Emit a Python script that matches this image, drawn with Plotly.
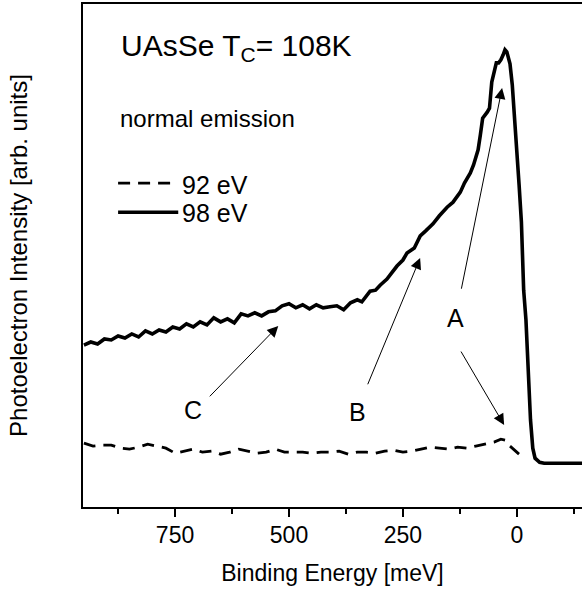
import plotly.graph_objects as go

# Binding energy (meV) and intensity (arb. units) for the two photon energies
energy_98 = [950, 935, 920, 905, 890, 875, 860, 845, 830, 815, 800, 785, 770, 755, 740,
             725, 710, 695, 680, 665, 650, 635, 620, 605, 590, 575, 560, 545, 530, 515,
             500, 485, 470, 455, 440, 425, 410, 395, 380, 365, 350, 340, 322, 310, 300,
             285, 275, 263, 250, 241, 225, 212, 200, 184, 170, 153, 140, 124, 115, 102,
             95, 85, 80, 75, 65, 60, 55, 50, 45, 40, 35, 30, 26, 22, 18, 15, 10, 5, 0,
             -5, -10, -15, -20, -25, -30, -35, -40, -50, -60, -80, -100, -120, -150]
intensity_98 = [3.22, 3.28, 3.24, 3.34, 3.32, 3.40, 3.36, 3.44, 3.38, 3.50, 3.44, 3.52, 3.48, 3.58, 3.54,
                3.64, 3.58, 3.68, 3.62, 3.76, 3.68, 3.74, 3.66, 3.84, 3.80, 3.86, 3.80, 3.88, 3.90, 4.00,
                4.04, 3.96, 4.02, 3.94, 4.02, 3.96, 3.98, 4.00, 3.92, 4.06, 4.12, 4.08, 4.29, 4.31, 4.41,
                4.53, 4.65, 4.79, 4.91, 5.05, 5.15, 5.39, 5.49, 5.63, 5.79, 5.96, 6.06, 6.26, 6.44, 6.64,
                6.80, 7.10, 7.40, 7.73, 7.85, 7.93, 8.45, 8.65, 8.83, 8.83, 8.89, 8.99, 9.09, 9.05, 8.93, 8.81, 8.39, 7.79, 7.10,
                6.40, 5.67, 4.31, 3.72, 2.72, 1.73, 1.17, 0.97, 0.89, 0.87, 0.87, 0.87, 0.87, 0.87]

energy_92 = [950, 930, 910, 890, 870, 850, 830, 810, 790, 770, 750, 730, 710, 690, 670,
             650, 630, 610, 590, 570, 550, 530, 510, 490, 470, 450, 430, 410, 390, 370,
             350, 330, 310, 290, 270, 250, 230, 210, 190, 170, 150, 130, 110, 90, 70,
             50, 35, 25, 15, 5, -5, -15]
intensity_92 = [1.27, 1.21, 1.23, 1.23, 1.17, 1.15, 1.19, 1.25, 1.21, 1.17, 1.07, 1.11, 1.15, 1.09, 1.11,
                1.05, 1.09, 1.15, 1.11, 1.07, 1.09, 1.15, 1.09, 1.09, 1.09, 1.07, 1.09, 1.09, 1.11, 1.05,
                1.09, 1.09, 1.07, 1.11, 1.13, 1.09, 1.11, 1.15, 1.19, 1.17, 1.15, 1.19, 1.17, 1.21, 1.25,
                1.29, 1.35, 1.33, 1.21, 1.13, 1.05, 0.99]

major_ticks = [750, 500, 250, 0]
minor_ticks = [875, 625, 375, 125, -125]

FONT = "Liberation Sans, Arial, Helvetica, sans-serif"

fig = go.Figure()
fig.add_trace(go.Scatter(x=energy_92, y=intensity_92, mode="lines", name="92 eV",
                         line=dict(color="black", width=2.8, dash="12px,8px")))
fig.add_trace(go.Scatter(x=energy_98, y=intensity_98, mode="lines", name="98 eV",
                         line=dict(color="black", width=3.6)))

# Hand-drawn style legend inside the frame
fig.add_shape(type="line", x0=875, x1=756, y0=6.44, y1=6.44, xref="x", yref="y",
              line=dict(color="black", width=2.8, dash="12px,8px"))
fig.add_shape(type="line", x0=875, x1=743, y0=5.86, y1=5.86, xref="x", yref="y",
              line=dict(color="black", width=3.6))

texts = [
    dict(x=872, y=9.14, text="UAsSe T<sub>C</sub>= 108K", size=30),
    dict(x=876, y=7.73, text="normal emission", size=24),
    dict(x=740, y=6.40, text="92 eV", size=25),
    dict(x=740, y=5.84, text="98 eV", size=25),
]
for t in texts:
    fig.add_annotation(x=t["x"], y=t["y"], xref="x", yref="y", text=t["text"],
                       showarrow=False, xanchor="left", yanchor="middle",
                       font=dict(family=FONT, size=t["size"], color="black"))

for label, lx, ly in [("A", 135.4, 3.76), ("B", 350.6, 1.89), ("C", 710, 1.93)]:
    fig.add_annotation(x=lx, y=ly, xref="x", yref="y", text=label, showarrow=False,
                       xanchor="center", yanchor="middle",
                       font=dict(family=FONT, size=25, color="black"))

# Arrows pointing to the spectral features
arrows = [
    (677, 2.17, 523.5, 3.60),
    (328.5, 2.41, 212.2, 4.95),
    (122.3, 4.31, 32.3, 8.33),
    (124.4, 3.12, 27.9, 1.63),
]
for ax_, ay_, hx, hy in arrows:
    fig.add_annotation(x=hx, y=hy, ax=ax_, ay=ay_, xref="x", yref="y", axref="x", ayref="y",
                       text="", showarrow=True, arrowhead=2, arrowsize=2.2, arrowwidth=1,
                       arrowcolor="black", standoff=0)

fig.update_layout(
    width=582, height=593,
    margin=dict(l=83, r=0, t=4, b=86),
    paper_bgcolor="white", plot_bgcolor="white",
    showlegend=False,
    font=dict(family=FONT, color="black"),
    xaxis=dict(range=[952, -143], tickvals=major_ticks, ticks="outside", ticklen=8,
               tickwidth=2, tickcolor="black", showline=True, linewidth=2, linecolor="black",
               mirror=True, showgrid=False, zeroline=False, ticklabelstandoff=-2,
               tickfont=dict(family=FONT, size=23, color="black"),
               minor=dict(tickvals=minor_ticks, ticks="outside", ticklen=5, tickwidth=2,
                          tickcolor="black", showgrid=False),
               title=dict(text="Binding Energy [meV]", standoff=18,
                          font=dict(family=FONT, size=23, color="black"))),
    yaxis=dict(range=[0, 10], showline=True, linewidth=2, linecolor="black",
               showticklabels=False, ticks="", showgrid=False, zeroline=False,
               title=dict(text="Photoelectron Intensity [arb. units]", standoff=47,
                          font=dict(family=FONT, size=24, color="black"))),
)

fig.write_html("out.html")
